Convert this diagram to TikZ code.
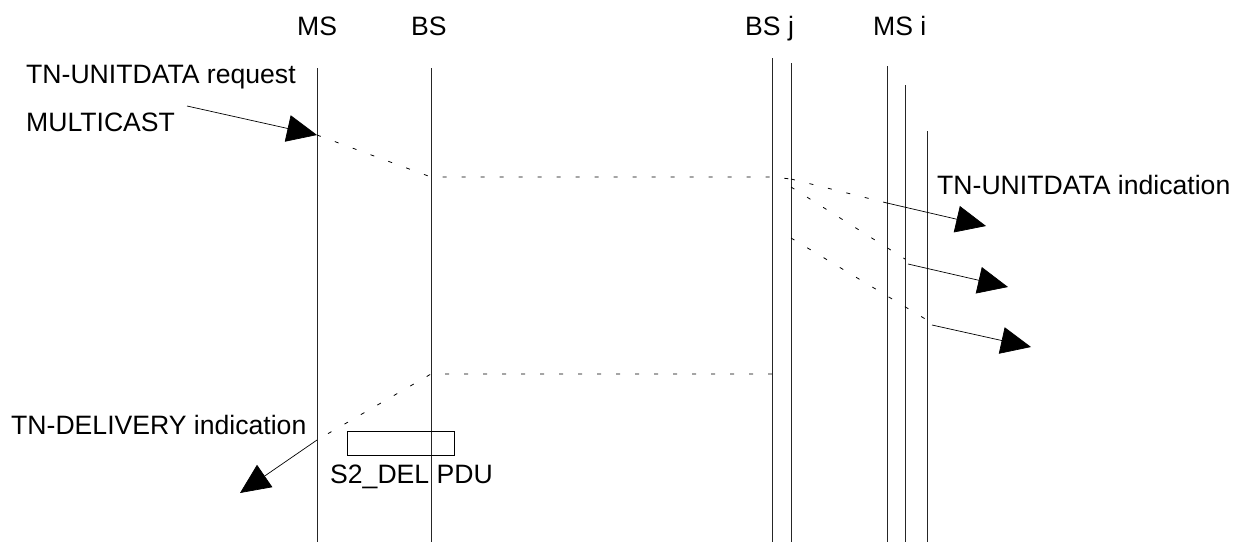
\documentclass[tikz,border=0pt]{standalone}
\usepackage{fontspec}
\setmainfont{Liberation Sans}
\usepackage{tikz}
\usetikzlibrary{arrows.meta}
\tikzset{
  life/.style  = {line width=0.8pt, draw=black!85},
  msg/.style   = {-{Triangle[length=30pt,width=27pt]}, line width=0.7pt},
  relay/.style = {line width=0.8pt, dash pattern=on 4pt off 15pt},
  lbl/.style   = {font=\fontsize{26.6}{30}\selectfont, inner sep=0pt},
  pdu/.style   = {draw, line width=0.7pt, minimum width=107pt, minimum height=24pt, inner sep=0pt},
}

\begin{document}
\begin{tikzpicture}[x=1pt, y=-1pt]
  \useasboundingbox (0,0) rectangle (1239,542);

  % lifelines
  \foreach \n/\x/\t in {ms/317/68, bs/431/68, bsja/772/58, bsjb/791/63, msia/887/66, msib/905/85, msic/927/131} {
    \coordinate (\n-t) at (\x,\t);
    \coordinate (\n-b) at (\x,542);
    \draw[life] (\n-t) -- (\n-b);
  }
  \node[lbl, anchor=base west] (ms-name)  at (297,35) {MS};
  \node[lbl, anchor=base west] (bs-name)  at (411,35) {BS};
  \node[lbl, anchor=base west] (bsj-name) at (745,35) {BS j};
  \node[lbl, anchor=base west] (msi-name) at (873,35) {MS i};

  % request
  \node[lbl, anchor=base west] (req)   at (26,83)  {TN-UNITDATA request};
  \node[lbl, anchor=base west] (mcast) at (26,131) {MULTICAST};
  \coordinate (req-from) at (187,106);
  \coordinate (ms-req)   at (317,135);
  \coordinate (bs-req)   at (431,177);
  \coordinate (bsja-req) at (772,177);
  \coordinate (bsjb-req) at (791,179);
  \draw[msg] (req-from) -- (ms-req);
  \draw[relay] (ms-req) -- (bs-req) -- (bsja-req) -- (bsjb-req);

  % fan out to the MS i
  \coordinate (bsjb-f2) at (791,187);
  \coordinate (bsjb-f3) at (791,238);
  \coordinate (msia-in) at (887,203);
  \coordinate (msib-in) at (905,259);
  \coordinate (msic-in) at (927,320);
  \draw[relay] (bsjb-req) -- (msia-in);
  \draw[relay] (bsjb-f2) -- (msib-in);
  \draw[relay] (bsjb-f3) -- (msic-in);

  \coordinate (ind-a) at (986,226);
  \coordinate (msib-out) at (908,264);
  \coordinate (ind-b) at (1008,287);
  \coordinate (msic-out) at (932,325);
  \coordinate (ind-c) at (1031,347);
  \draw[msg] (msia-in) -- (ind-a);
  \draw[msg] (msib-out) -- (ind-b);
  \draw[msg] (msic-out) -- (ind-c);
  \node[lbl, anchor=base west] (ind) at (937,194) {TN-UNITDATA indication};

  % delivery report
  \coordinate (bsja-del) at (772,374);
  \coordinate (bs-del)   at (431,374);
  \coordinate (ms-del)   at (317,440);
  \coordinate (del-to)   at (240,493);
  \draw[relay] (bsja-del) -- (bs-del) -- (ms-del);
  \draw[msg] (ms-del) -- (del-to);
  \node[lbl, anchor=base west] (del) at (11,434) {TN-DELIVERY indication};

  \node[pdu, anchor=north west] (s2del) at (347,431) {};
  \node[lbl, anchor=base west] (s2del-name) at (330,483) {S2\_DEL PDU};
\end{tikzpicture}
\end{document}
